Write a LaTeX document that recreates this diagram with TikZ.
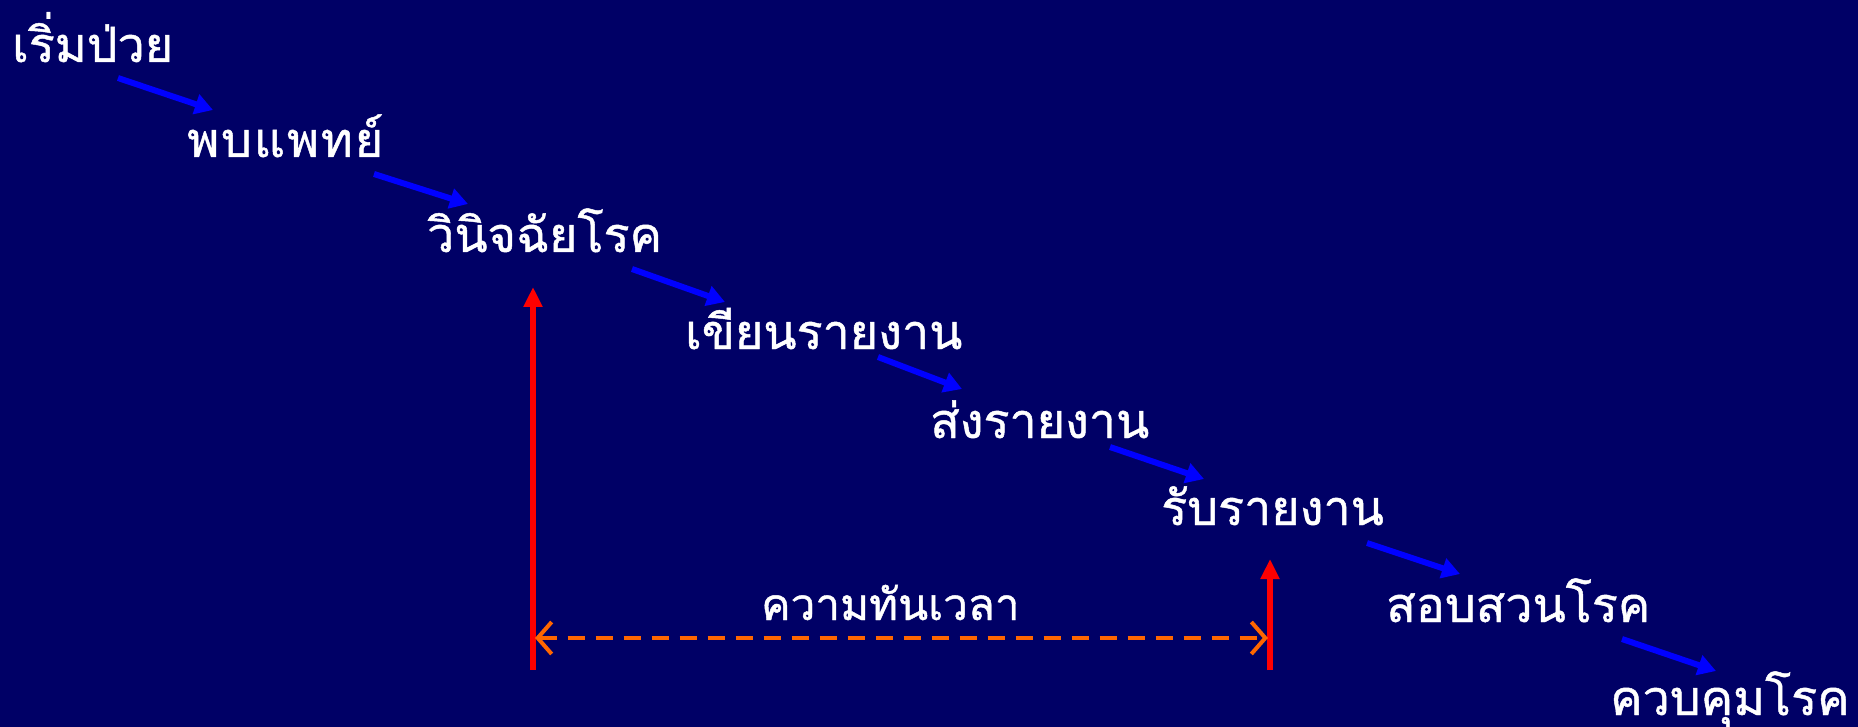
\documentclass[tikz,border=0pt]{standalone}
\usepackage{fontspec}
\newfontfamily\thaifont[Script=Thai,FakeBold=1.0]{Loma}
\usetikzlibrary{arrows.meta}
\definecolor{bg}{RGB}{0,0,102}
\definecolor{bluearrow}{RGB}{0,0,255}
\definecolor{redarrow}{RGB}{255,0,0}
\definecolor{orangearrow}{RGB}{255,102,0}
\tikzset{
  lbl/.style={text=white,font=\thaifont\fontsize{48.5}{54}\selectfont,anchor=base west,inner sep=0pt},
  spanlbl/.style={text=white,font=\thaifont\fontsize{44}{50}\selectfont,anchor=base west,inner sep=0pt},
  stepflow/.style={draw=bluearrow,line width=6pt,-{Triangle[length=18pt,width=20pt]}},
  redup/.style={draw=redarrow,line width=6pt,-{Triangle[length=20pt,width=18pt]}},
  span/.style={draw=orangearrow,line width=4pt,dash pattern=on 17pt off 11pt,{Straight Barb[length=14pt,width=32pt,line width=4pt]}-{Straight Barb[length=14pt,width=32pt,line width=4pt]}}
}
\begin{document}
\begin{tikzpicture}[x=1pt,y=-1pt]
\fill[bg] (0,0) rectangle (1858,727);
\useasboundingbox (0,0) rectangle (1858,727);
\node[lbl] (n1) at (12,62) {เริ่มป่วย};
\node[lbl] (n2) at (187,157) {\addfontfeature{LetterSpace=4}พบแพทย์};
\node[lbl] (n3) at (427,252) {วินิจฉัยโรค};
\node[lbl] (n4) at (685,349) {เขียนรายงาน};
\node[lbl] (n5) at (930,438) {ส่งรายงาน};
\node[lbl] (n6) at (1161,525) {รับรายงาน};
\node[lbl] (n7) at (1386,622) {สอบสวนโรค};
\node[lbl] (n8) at (1610,715) {ควบคุมโรค};
\node[spanlbl] (span) at (761,620) {ความทันเวลา};
\coordinate (a1s) at (118,78);  \coordinate (a1e) at (213,110);
\coordinate (a2s) at (374,174); \coordinate (a2e) at (468,204);
\coordinate (a3s) at (632,269); \coordinate (a3e) at (725,302);
\coordinate (a4s) at (878,357); \coordinate (a4e) at (962,389);
\coordinate (a5s) at (1110,447);\coordinate (a5e) at (1204,479);
\coordinate (a6s) at (1367,543);\coordinate (a6e) at (1460,574);
\coordinate (a7s) at (1622,639);\coordinate (a7e) at (1716,671);
\foreach \i in {1,...,7} {\draw[stepflow] (a\i s) -- (a\i e);}
\coordinate (r1b) at (533,670); \coordinate (r1t) at (533,287);
\coordinate (r2b) at (1270,670); \coordinate (r2t) at (1270,559);
\draw[redup] (r1b) -- (r1t);
\draw[redup] (r2b) -- (r2t);
\coordinate (sl) at (535,638); \coordinate (sr) at (1268,638);
\draw[span] (sl) -- (sr);
\end{tikzpicture}
\end{document}
